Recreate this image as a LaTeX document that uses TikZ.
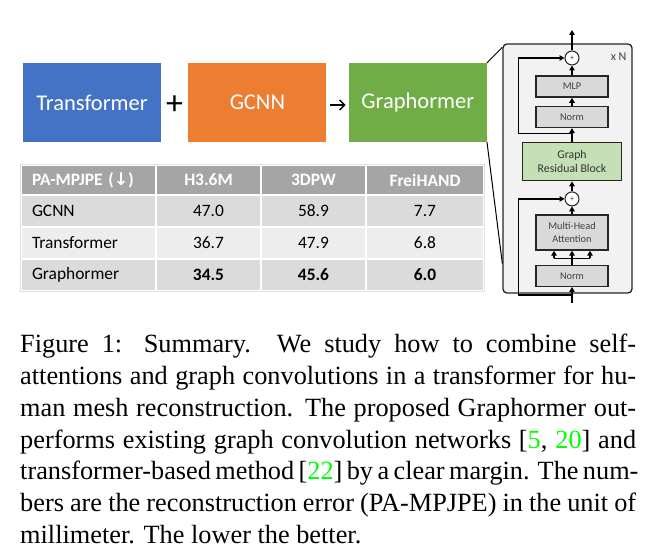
\documentclass[tikz,border=0pt]{standalone}
\usepackage{fontspec}
\setmainfont{Liberation Serif}
\newfontfamily\calibri{Carlito}
\newfontfamily\symfont{DejaVu Sans}
\usetikzlibrary{arrows.meta, positioning, calc, backgrounds}
\definecolor{tfblue}{HTML}{4472C4}
\definecolor{gcnnorange}{HTML}{ED7D31}
\definecolor{graphgreen}{HTML}{70AD47}
\definecolor{residgreen}{HTML}{C5E0B4}
\definecolor{layergray}{HTML}{D9D9D9}
\definecolor{stackgray}{HTML}{F2F2F2}
\definecolor{edgedark}{HTML}{262626}
\definecolor{labelgray}{HTML}{404040}
\definecolor{headgray}{HTML}{A5A5A5}
\definecolor{rowdark}{HTML}{DBDBDB}
\definecolor{rowlight}{HTML}{EDEDED}
\definecolor{citegreen}{rgb}{0,1,0}
\newcommand{\capline}[2][s]{\makebox[616pt][#1]{\spaceskip=0pt\xspaceskip=0pt #2}}

\begin{document}
\begin{tikzpicture}[
    x=1pt, y=-1pt,
    % ── Node styles ──────────────────────────────────────────────────────
    blockbox/.style={
        minimum width=138pt, minimum height=79pt, inner sep=0pt,
        font=\calibri\fontsize{22.5}{27}\selectfont, text=white
    },
    cell/.style={
        draw=white, line width=1.2pt, inner sep=0pt,
        minimum height=32pt, text=black,
        font=\calibri\fontsize{17.4}{20}\selectfont
    },
    headcell/.style={
        cell, fill=headgray, text=white, minimum height=30pt,
        font=\calibri\bfseries\fontsize{17.4}{20}\selectfont
    },
    firstcol/.style={
        minimum width=135pt, text width=113pt, inner xsep=11pt, align=left
    },
    stackbox/.style={
        draw=edgedark, fill=stackgray, rounded corners=4pt,
        line width=1.3pt, inner sep=0pt
    },
    layerbox/.style={
        draw=edgedark, fill=layergray, line width=1.3pt,
        minimum width=72pt, minimum height=21pt, inner sep=0pt,
        font=\calibri\fontsize{10.3}{12.3}\selectfont,
        text=labelgray, align=center
    },
    residbox/.style={
        layerbox, fill=residgreen, minimum width=99pt, minimum height=38pt,
        font=\calibri\fontsize{11.8}{14}\selectfont, text=black!80
    },
    addnode/.style={
        circle, draw=edgedark, fill=white, line width=1pt,
        minimum size=14pt, inner sep=0pt,
        font=\calibri\fontsize{8}{8}\selectfont, text=labelgray
    },
    captiontext/.style={
        text width=616pt, align=left, inner sep=0pt,
        font=\fontsize{26.3}{31.8}\selectfont
    },
    % ── Arrow styles ─────────────────────────────────────────────────────
    arr/.style={
        -{Triangle[length=5pt, width=5.5pt]},
        line width=1.3pt, color=black
    },
    line/.style={line width=1.3pt, color=black},
    flowarr/.style={
        -{Straight Barb[length=5pt, width=10pt]},
        line width=1.4pt, color=black
    },
    leader/.style={line width=1pt, color=black}
]
\useasboundingbox (0,0) rectangle (657,559);

% ═══════════════════════════════════════════════════════════════════════════
% 1. Transformer + GCNN -> Graphormer
% ═══════════════════════════════════════════════════════════════════════════
\node[blockbox, fill=tfblue] (transformer) at (92,102.5) {Transformer};
\node[blockbox, fill=gcnnorange, right=27pt of transformer] (gcnn) {GCNN};
\node[blockbox, fill=graphgreen, right=22pt of gcnn] (graphormer) {Graphormer};

\node[font=\calibri\fontsize{34}{34}\selectfont, inner sep=0pt] (plus)
    at ($(transformer.east)!0.5!(gcnn.west)+(0,2.5)$) {+};
\draw[flowarr] ([xshift=3pt,yshift=-2.5pt]gcnn.east)
    -- ([xshift=-3pt,yshift=-2.5pt]graphormer.west);

% ═══════════════════════════════════════════════════════════════════════════
% 2. Results table
% ═══════════════════════════════════════════════════════════════════════════
\node[headcell, firstcol] (head-method) at (88.5,180)
    {PA-MPJPE ({\symfont\bfseries ↓})};
\node[headcell, minimum width=105pt] (head-h36m) at (208.5,180) {H3.6M};
\node[headcell, minimum width=105pt] (head-3dpw) at (313.5,180) {3DPW};
\node[headcell, minimum width=118pt] (head-freihand) at (425,180) {FreiHAND};

\foreach \method/\hm/\pw/\fh/\shade [count=\r] in {
    GCNN/47.0/58.9/7.7/rowdark,
    Transformer/36.7/47.9/6.8/rowlight,
    Graphormer/\textbf{34.5}/\textbf{45.6}/\textbf{6.0}/rowdark}{
    \pgfmathsetmacro\rowy{179+32*\r}
    \node[cell, firstcol, fill=\shade] (row\r-method) at (88.5,\rowy) {\method};
    \node[cell, minimum width=105pt, fill=\shade] (row\r-h36m) at (208.5,\rowy) {\hm};
    \node[cell, minimum width=105pt, fill=\shade] (row\r-3dpw) at (313.5,\rowy) {\pw};
    \node[cell, minimum width=118pt, fill=\shade] (row\r-freihand) at (425,\rowy) {\fh};
}
\draw[black!12, line width=0.6pt] (head-method.north west) rectangle (row3-freihand.south east);

% ═══════════════════════════════════════════════════════════════════════════
% 3. Graphormer encoder block (x N)
% ═══════════════════════════════════════════════════════════════════════════
\node[addnode] (addtop) at (572,58) {+};
\node[layerbox, below=10pt of addtop] (mlp) {MLP};
\node[layerbox, below=8pt of mlp] (normtop) {Norm};
\node[residbox, below=14pt of normtop] (residual) {Graph\\Residual Block};
\node[addnode, below=10pt of residual] (addbot) {+};
\node[layerbox, minimum height=35pt, below=8pt of addbot] (attention)
    {Multi-Head\\Attention};
\node[layerbox, below=14pt of attention] (normbot) {Norm};

% Outer box
\begin{scope}[on background layer]
    \node[stackbox, minimum width=129pt, minimum height=249pt] (stack)
        at (567.5,168.5) {};
\end{scope}
\node[anchor=north east, inner sep=0pt, text=labelgray,
      font=\calibri\fontsize{12}{14}\selectfont]
    (repeat) at ([xshift=-6pt,yshift=-9pt]stack.north east) {x N};

% Main flow
\coordinate (input) at (572,303);
\coordinate (output) at (572,30);
\draw[arr] (input) -- (normbot.south);
\coordinate (fan) at ($(normbot.north)!0.45!(attention.south)$);
\draw[line] (normbot.north) -- (fan);
\draw[line] ([xshift=-18pt]fan) -- ([xshift=18pt]fan);
\foreach \dx in {-18,0,18}
    \draw[arr] ([xshift=\dx pt]fan) -- ([xshift=\dx pt]fan |- attention.south);
\draw[arr] (attention.north) -- (addbot.south);
\draw[arr] (addbot.north) -- (residual.south);
\draw[arr] (residual.north) -- (normtop.south);
\draw[arr] (normtop.north) -- (mlp.south);
\draw[arr] (mlp.north) -- (addtop.south);
\draw[arr] (addtop.north) -- (output);

% Skip connections
\coordinate (railx) at ([xshift=16pt]stack.west);
\coordinate (railtop) at ($(normtop.south)!0.4!(residual.north)$);
\coordinate (railbot) at ([yshift=-8pt]normbot.south);
\draw[arr] (railtop) -- (railtop -| railx) |- (addtop.west);
\draw[arr] (railbot) -- (railbot -| railx) |- (addbot.west);

% Leader lines
\draw[leader] (graphormer.north east) -- ([yshift=-4pt]stack.north west);
\draw[leader] (graphormer.south east) -- ([yshift=30pt]stack.south west);

% ═══════════════════════════════════════════════════════════════════════════
% 4. Caption
% ═══════════════════════════════════════════════════════════════════════════
\node[captiontext, anchor=north west] (caption) at (20,334) {%
\capline{Figure 1: Summary.\ \ We study how to combine self-}\\
\capline{attentions and graph convolutions in a transformer for hu-}\\
\capline{man mesh reconstruction. The proposed Graphormer out-}\\
\capline{performs existing graph convolution networks
  [\textcolor{citegreen}{5}, \textcolor{citegreen}{20}] and}\\
\capline{transformer-based method [\textcolor{citegreen}{22}] by a clear margin. The num-}\\
\capline{bers are the reconstruction error (PA-MPJPE) in the unit of}\\
\capline[l]{millimeter. The lower the better.}};

\end{tikzpicture}
\end{document}
